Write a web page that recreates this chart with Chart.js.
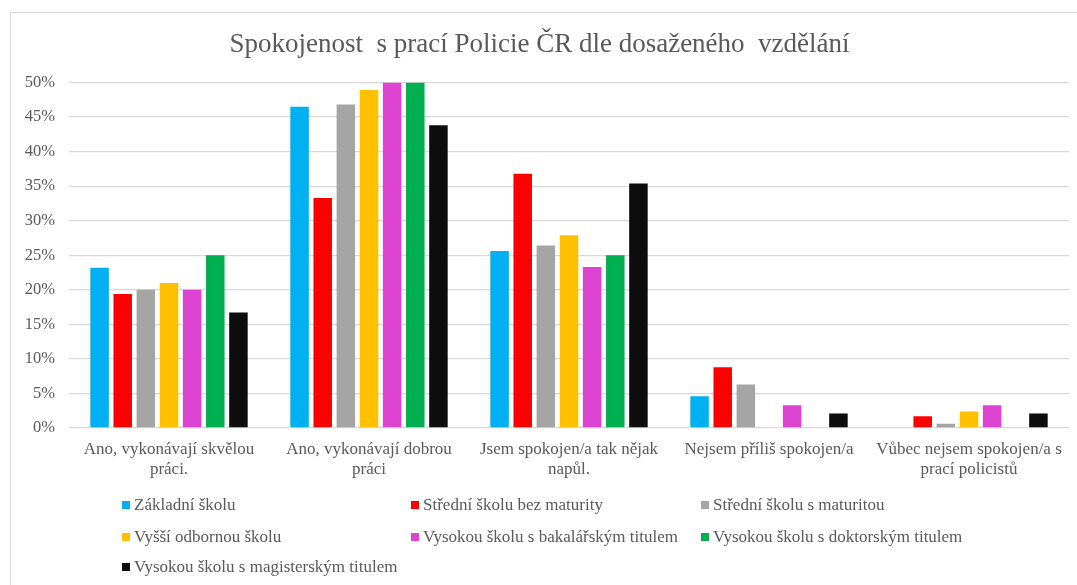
<!DOCTYPE html>
<html>
<head>
<meta charset="utf-8">
<script src="https://cdn.jsdelivr.net/npm/chart.js@4"></script>
<style>
  body { margin: 0; background: #fff; }
  #wrap { position: relative; width: 1077px; height: 585px; overflow: hidden; }
  #frame { position: absolute; left: 10px; top: 12px; width: 1200px; height: 700px; border: 1px solid #d9d9d9; }
  #box { position: absolute; left: 0; top: 0; width: 1077px; height: 585px; }
</style>
</head>
<body>
<div id="wrap">
  <div id="frame"></div>
  <div id="box"><canvas id="myChart"></canvas></div>
</div>
<script>
const categories = [
    ['Ano, vykonávají skvělou', 'práci.'],
    ['Ano, vykonávají dobrou', 'práci'],
    ['Jsem spokojen/a tak nějak', 'napůl.'],
    'Nejsem příliš spokojen/a',
    ['Vůbec nejsem spokojen/a s', 'prací policistů']
];

const seriesNames = [
    'Základní školu',
    'Střední školu bez maturity',
    'Střední školu s maturitou',
    'Vyšší odbornou školu',
    'Vysokou školu s bakalářským titulem',
    'Vysokou školu s doktorským titulem',
    'Vysokou školu s magisterským titulem'
];

const seriesColors = ['#00B0F0', '#FF0000', '#A5A5A5', '#FFC000', '#DE44D2', '#00B050', '#0D0D0D'];

// values in %
const zakladni = [23.2, 46.5, 25.6, 4.6, 0];
const stredniBez = [19.4, 33.3, 36.8, 8.8, 1.7];
const stredniS = [20.0, 46.8, 26.4, 6.3, 0.6];
const vyssiOdb = [21.0, 48.9, 27.9, 0, 2.4];
const bakalar = [20.0, 50.0, 23.3, 3.3, 3.3];
const doktor = [25.0, 50.0, 25.0, 0, 0];
const magistr = [16.7, 43.8, 35.4, 2.1, 2.1];

const seriesValues = [zakladni, stredniBez, stredniS, vyssiOdb, bakalar, doktor, magistr];

const yTicks = [0, 5, 10, 15, 20, 25, 30, 35, 40, 45, 50];

const textColor = '#595959';
const serif = "'Liberation Serif', 'Times New Roman', serif";

// legend grid: 3 columns, rows below the axis labels
const legendCols = [122, 411, 701];
const legendRows = [505, 537, 567];

const gridLegend = {
    id: 'gridLegend',
    afterDraw(chart) {
        const c = chart.ctx;
        c.save();
        c.font = '17px ' + serif;
        c.textBaseline = 'middle';
        c.textAlign = 'left';
        chart.data.datasets.forEach((ds, i) => {
            const x = legendCols[i % 3];
            const y = legendRows[Math.floor(i / 3)];
            c.fillStyle = ds.backgroundColor;
            c.fillRect(x, y - 4, 8, 8);
            c.fillStyle = textColor;
            c.fillText(ds.label, x + 12, y + 1);
        });
        c.restore();
    }
};

function initChart() {
    const ctx = document.getElementById('myChart');

    new Chart(ctx, {
        type: 'bar',
        data: {
            labels: categories,
            datasets: seriesNames.map((name, i) => ({
                label: name,
                data: seriesValues[i],
                backgroundColor: seriesColors[i],
                borderWidth: 0,
                categoryPercentage: 0.81,
                barPercentage: 0.8
            }))
        },
        options: {
            responsive: true,
            maintainAspectRatio: false,
            animation: false,
            layout: {
                padding: { top: 0, left: 10, right: 8, bottom: 0 }
            },
            scales: {
                x: {
                    grid: { display: false, drawTicks: false },
                    border: { display: false },
                    ticks: {
                        color: textColor,
                        font: { family: serif, size: 17, lineHeight: 1.15 },
                        padding: 12,
                        maxRotation: 0,
                        autoSkip: false
                    },
                    afterFit(scale) { scale.height = 157; }
                },
                y: {
                    min: 0,
                    max: 50,
                    afterBuildTicks(scale) {
                        scale.ticks = yTicks.map(v => ({ value: v }));
                    },
                    grid: { color: '#d9d9d9', lineWidth: 1.3, drawTicks: false },
                    border: { display: false },
                    ticks: {
                        color: textColor,
                        font: { family: serif, size: 16.5 },
                        padding: 14,
                        callback: v => v + '%'
                    },
                    afterFit(scale) { scale.width = 59; }
                }
            },
            plugins: {
                legend: { display: false },
                tooltip: { enabled: false },
                title: {
                    display: true,
                    text: 'Spokojenost  s prací Policie ČR dle dosaženého  vzdělání',
                    color: textColor,
                    font: { family: serif, size: 27, weight: 'normal', lineHeight: 1.2 },
                    padding: { top: 28.8, bottom: 21.3 }
                }
            }
        },
        plugins: [gridLegend]
    });
}

document.addEventListener('DOMContentLoaded', initChart);
</script>
</body>
</html>
